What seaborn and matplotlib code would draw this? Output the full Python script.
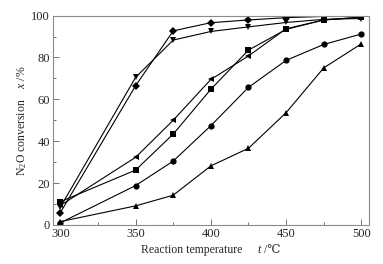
import pandas as pd
import matplotlib
matplotlib.use("Agg")
import matplotlib.pyplot as plt
import seaborn as sns
from matplotlib.ticker import MultipleLocator
from matplotlib.offsetbox import TextArea, HPacker, AnchoredOffsetbox

# ── data ────────────────────────────────────────────────────────────────────
temps = [300, 350, 375, 400, 425, 450, 475, 500]
series_names = ["diamond", "down", "left", "square", "circle", "up"]
conv_diamond = [5.9, 66.5, 92.7, 96.6, 97.9, 99.0, 99.6, 99.6]
conv_down = [8.5, 70.5, 88.3, 92.4, 94.6, 96.7, 98.2, 98.6]
conv_left = [9.3, 32.3, 50.0, 69.5, 80.7, 93.7, 97.9, 99.2]
conv_square = [11.1, 26.2, 43.4, 64.8, 83.5, 93.4, 97.9, 99.3]
conv_circle = [1.0, 18.8, 30.5, 47.4, 65.7, 78.6, 86.2, 91.2]
conv_up = [1.6, 9.1, 14.2, 28.2, 36.6, 53.6, 75.0, 86.5]
marker_map = {"diamond": "D", "down": "v", "left": "<",
              "square": "s", "circle": "o", "up": "^"}

values = [conv_diamond, conv_down, conv_left, conv_square, conv_circle, conv_up]
df = pd.DataFrame(
    [(name, t, v) for name, vals in zip(series_names, values) for t, v in zip(temps, vals)],
    columns=["catalyst", "temp", "conv"],
)

sns.set_style("ticks")
plt.rcParams["font.family"] = ["Liberation Serif", "DejaVu Serif"]
plt.rcParams["mathtext.fontset"] = "custom"
plt.rcParams["mathtext.rm"] = "Liberation Serif"
plt.rcParams["mathtext.it"] = "Liberation Serif:italic"

fig = plt.figure(figsize=(3.83, 2.64), dpi=100)
ax = fig.add_axes([0.138, 0.148, 0.825, 0.793])

sns.lineplot(data=df, x="temp", y="conv", style="catalyst", markers=marker_map,
             dashes=False, color="black", linewidth=0.8, markersize=4.5,
             markeredgewidth=0, legend=False, ax=ax)

ax.set_xlim(295, 505)
ax.set_ylim(0, 100)
ax.xaxis.set_major_locator(MultipleLocator(50))
ax.xaxis.set_minor_locator(MultipleLocator(25))
ax.yaxis.set_major_locator(MultipleLocator(20))
ax.yaxis.set_minor_locator(MultipleLocator(10))
ax.tick_params(which="both", direction="in", color="0.45", labelsize=9,
               top=False, right=False, pad=2)
ax.tick_params(which="major", length=4, width=0.7)
ax.tick_params(which="minor", length=2.5, width=0.7)
for s in ax.spines.values():
    s.set_color("0.55")
    s.set_linewidth(0.8)

# x label in pieces so the italic t and the ℃ sign both render
ax.set_xlabel("")
fam = ["Liberation Serif", "DejaVu Serif"]
parts = HPacker(children=[
    TextArea("Reaction temperature     ", textprops=dict(family=fam, size=8.5)),
    TextArea("t", textprops=dict(family=fam, size=8.5, style="italic")),
    TextArea(" /\u2103", textprops=dict(family=fam, size=8.5)),
], pad=0, sep=0, align="baseline")
box = AnchoredOffsetbox(loc="upper center", child=parts, pad=0, borderpad=0,
                        frameon=False, bbox_to_anchor=(0.5, -0.09),
                        bbox_transform=ax.transAxes)
ax.add_artist(box)

ax.set_ylabel("N$_2$O conversion    $x$ /%", fontsize=8.5, labelpad=2)

plt.savefig("out.png", dpi=100)
